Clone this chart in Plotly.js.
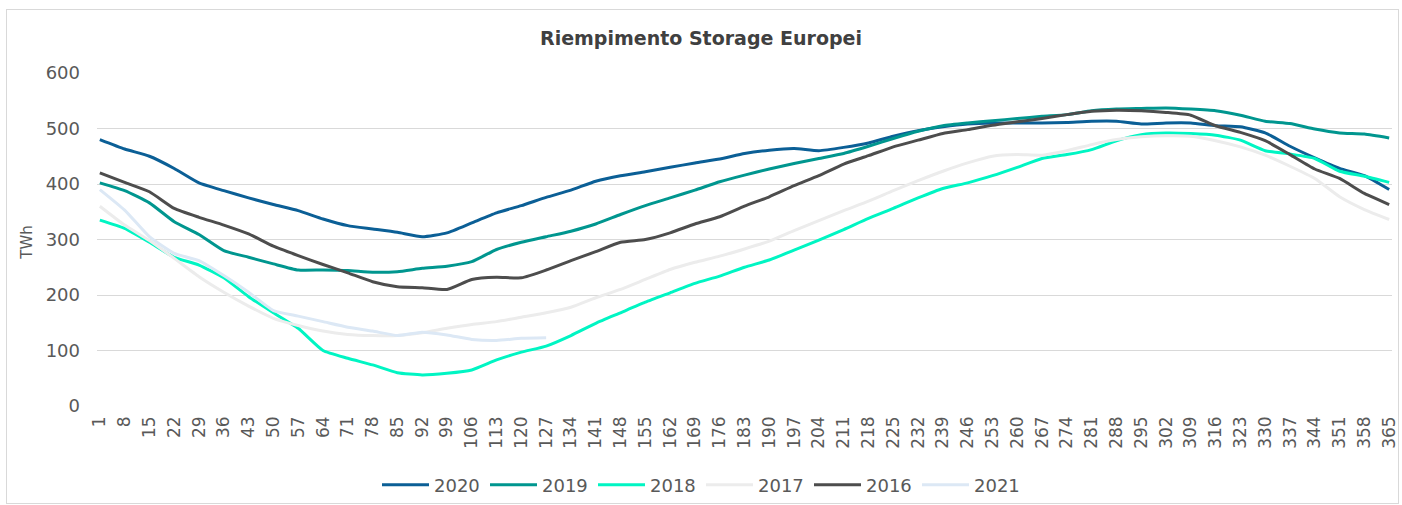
<!DOCTYPE html>
<html><head><meta charset="utf-8">
<script src="https://cdn.plot.ly/plotly-3.0.1.min.js"></script>
<style>
html,body{margin:0;padding:0;background:#fff;}
#chart{position:absolute;left:0;top:0;width:1402px;height:505px;}
#frame{position:absolute;left:6px;top:9px;width:1391px;height:493px;border:1px solid #d9d9d9;pointer-events:none;}
</style></head>
<body><div id="chart"></div><div id="frame"></div>
<script>
const days = [1,8,15,22,29,36,43,50,57,64,71,78,85,92,99,106,113,120,127,134,141,148,155,162,169,176,183,190,197,204,211,218,225,232,239,246,253,260,267,274,281,288,295,302,309,316,323,330,337,344,351,358,365];
const tickDays = days;
const s2020 = [480,463,450,428,402,388,375,363,352,337,325,319,313,305, 312,330,348,361,376,389,405,415,422,430,438,445,455, 461,464,460,466,474,486,496,503,508,510,510,510,511, 513,513,508,510,510,505,503,492,468,447,428,415,390];
const s2019 = [402,388,366,332,309,280,268,256,245,245,244,241,242,248, 252,260,282,295,305,315,328,345,361,375,389,404,416, 427,437,446,455,468,482,495,505,510,514,518,522,525, 532,535,536,537,535,532,524,513,509,499,492,490,483];
const s2018 = [335,320,295,268,254,231,197,168,140,100,86,74,60,56, 59,65,83,97,108,127,149,168,187,204,221,234,250, 263,281,299,318,338,356,375,392,402,415,430,446,453, 462,478,489,492,491,488,479,460,454,446,423,414,403];
const s2017 = [360,326,298,266,233,205,180,158,145,135,129,127,127,132, 140,147,152,160,168,178,195,210,228,246,259,270,283, 297,316,334,352,369,388,406,423,438,450,453,452,460, 471,480,485,487,486,478,467,452,432,410,377,354,336];
const s2016 = [420,403,386,356,340,326,310,288,271,255,240,224,215,213, 210,228,232,231,245,262,278,295,300,312,328,341,360, 377,397,415,436,451,467,479,491,498,506,512,518,525, 531,533,532,529,524,505,493,478,453,427,410,383,363];
const s2021 = [390,353,305,275,262,235,205,172,162,152,142,135,127,133,128,120,118,122,123];

const seriesNames = ['2020','2019','2018','2017','2016','2021'];
const seriesValues = [s2020,s2019,s2018,s2017,s2016,s2021];
const seriesColors = ['#0b5f96','#00968f','#00f5c3','#ececec','#4d4d4d','#dce8f5'];

const FONT = 'DejaVu Sans, sans-serif';
const traces = seriesNames.map((n,i)=>({
  type:'scatter', mode:'lines', name:n,
  x: days.slice(0, seriesValues[i].length),
  y: seriesValues[i],
  line:{color:seriesColors[i], width:3, shape:'spline', smoothing:0.5},
  hoverinfo:'x+y+name'
}));

const layout = {
  width:1402, height:505,
  margin:{l:97, r:10, t:73, b:98.5, pad:0},
  paper_bgcolor:'rgba(0,0,0,0)', plot_bgcolor:'rgba(0,0,0,0)',
  font:{family:FONT, color:'#595959'},
  title:{text:'Riempimento Storage Europei', xref:'container', x:0.5, xanchor:'center',
         yref:'container', y:1-38/505, yanchor:'middle',
         font:{family:FONT, size:19, weight:'bold', color:'#404040'}},
  xaxis:{range:[0.2,365.8], tickmode:'array', tickvals:tickDays, ticktext:tickDays.map(String),
         tickangle:-90, tickfont:{family:FONT, size:17, color:'#595959'}, showgrid:false, zeroline:false,
         showline:false, ticks:'', ticklabelstandoff:6},
  yaxis:{range:[0,600], dtick:100, tickfont:{family:FONT, size:18, color:'#595959'}, gridcolor:'#d9d9d9', gridwidth:1,
         zeroline:false, showline:false, ticks:'', ticklabelstandoff:16},
  annotations:[{text:'TWh', xref:'paper', yref:'paper', x:(27-97)/1295, y:(406.5-243)/333.5,
                xanchor:'center', yanchor:'middle', textangle:-90, showarrow:false,
                font:{family:FONT, size:15, color:'#595959'}}],
  legend:{orientation:'h', xref:'container', x:0.5, xanchor:'center', yref:'container', y:1-485/505, yanchor:'middle',
          font:{family:FONT, size:18, color:'#595959'}, itemwidth:47, entrywidth:46, entrywidthmode:'pixels',
          traceorder:'normal', bgcolor:'rgba(0,0,0,0)'},
  showlegend:true
};
Plotly.newPlot('chart', traces, layout, {displayModeBar:false, staticPlot:true});
</script>
</body></html>
